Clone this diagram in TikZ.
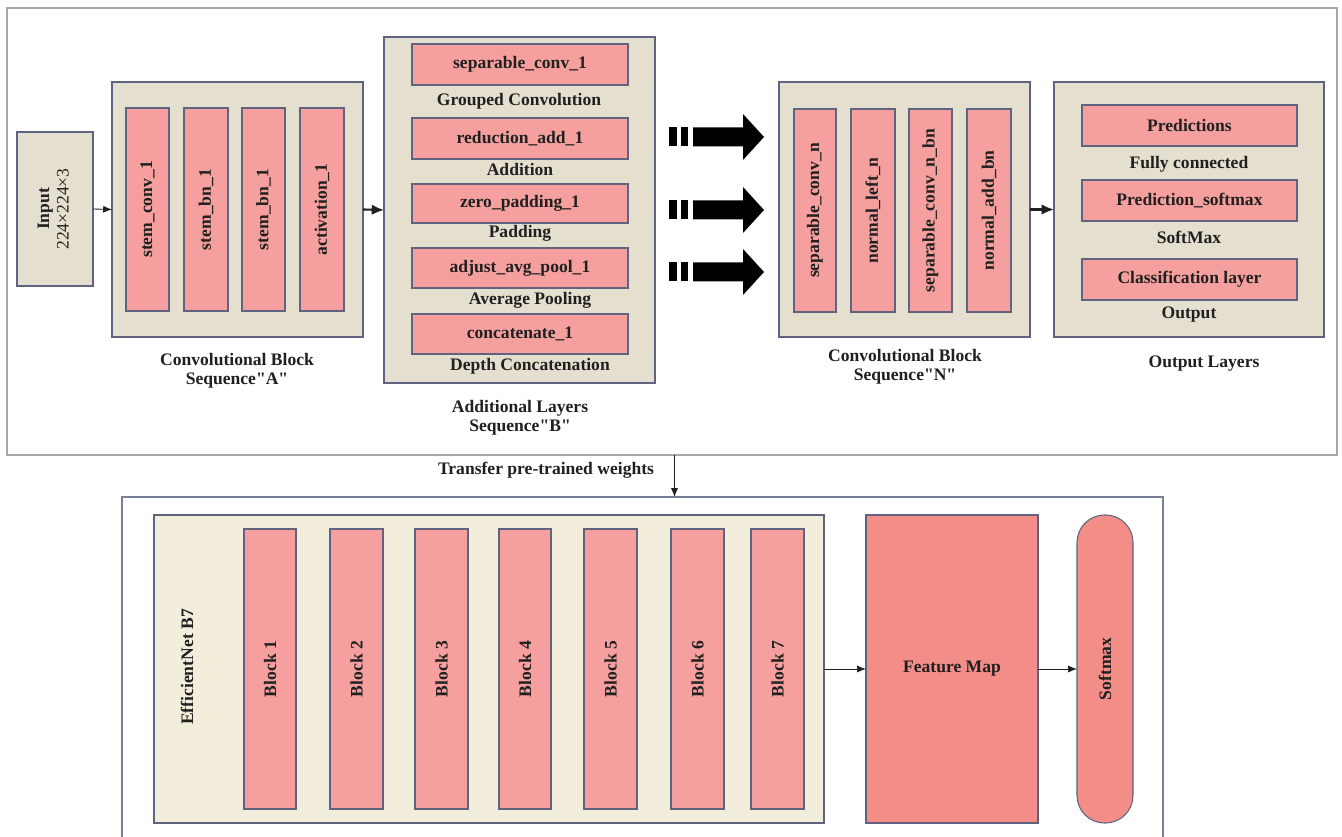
\documentclass[tikz,border=0pt]{standalone}
\usepackage{fontspec}
\setmainfont{Liberation Serif}[Ligatures=TeXOff]
\usepackage{graphicx}
\usetikzlibrary{arrows.meta}
\definecolor{panelbeige}{HTML}{E5DFCF}
\definecolor{effbeige}{HTML}{F3EEDC}
\definecolor{barred}{HTML}{F5A09E}
\definecolor{deepred}{HTML}{F28D88}
\definecolor{edge}{HTML}{5F6380}
\definecolor{outergrey}{HTML}{A8A8A8}
\definecolor{outerslate}{HTML}{7A7F9A}
\definecolor{ink}{HTML}{202020}
\newcommand\mkbox[7]{\node[#6, minimum width={(#4-#2)*0.02cm}, minimum height={(#5-#3)*0.02cm}] (#1) at ({(#2+#4)/2},{(#3+#5)/2}) {#7};}
\newcommand\vt[1]{\rotatebox{90}{#1}}
\tikzset{
  every node/.style={inner sep=0pt, outer sep=0pt, text=ink, font=\fontsize{10}{11}\selectfont\bfseries},
  outerbox/.style={draw=outergrey, line width=0.7pt},
  outerbot/.style={draw=outerslate, line width=0.7pt},
  panel/.style={draw=edge, fill=panelbeige, line width=0.6pt},
  effpanel/.style={draw=edge, fill=effbeige, line width=0.6pt},
  bar/.style={draw=edge, fill=barred, line width=0.6pt},
  deep/.style={draw=edge, fill=deepred, line width=0.6pt},
  caption/.style={align=center},
  conn/.style={draw=ink, line width=0.5pt, -{Latex[length=5pt,width=4pt]}},
  bigconn/.style={draw=ink, line width=1.2pt, -{Latex[length=7pt,width=6pt]}},
  fatarrow/.style={fill=black, draw=none}
}
\begin{document}
\begin{tikzpicture}[x=0.02cm, y=-0.02cm]
\useasboundingbox (0,0) rectangle (1342,837);
\clip (0,0) rectangle (1342,837);
\fill[white] (0,0) rectangle (1342,837);
% top section
\mkbox{outer}{7}{8}{1337}{455}{outerbox}{}
\mkbox{input}{17}{132}{93}{286}{panel}{\vt{\begin{tabular}{@{}c@{}}Input\\\mdseries 224×224×3\end{tabular}}}
\mkbox{A}{112}{82}{363}{337}{panel}{}
\mkbox{a1}{126}{108}{169}{311}{bar}{\vt{stem\_conv\_1}}
\mkbox{a2}{184}{108}{228}{311}{bar}{\vt{stem\_bn\_1}}
\mkbox{a3}{242}{108}{285}{311}{bar}{\vt{stem\_bn\_1}}
\mkbox{a4}{300}{108}{344}{311}{bar}{\vt{activation\_1}}
\node[caption] (labA) at (237,371) {Convolutional Block\\Sequence"A"};
\mkbox{B}{384}{37}{655}{383}{panel}{}
\mkbox{b1}{412}{44}{628}{85}{bar}{separable\_conv\_1}
\mkbox{b2}{412}{118}{628}{159}{bar}{reduction\_add\_1}
\mkbox{b3}{412}{184}{628}{223}{bar}{zero\_padding\_1}
\mkbox{b4}{412}{248}{628}{288}{bar}{adjust\_avg\_pool\_1}
\mkbox{b5}{412}{314}{628}{354}{bar}{concatenate\_1}
\node (cb1) at (519,101) {Grouped Convolution};
\node (cb2) at (520,169) {Addition};
\node (cb3) at (520,233) {Padding};
\node (cb4) at (530,300) {Average Pooling};
\node (cb5) at (530,366) {Depth Concatenation};
\node[caption] (labB) at (520,418) {Additional Layers\\Sequence"B"};
% fat arrows
\foreach \yy in {137,210,272}{
  \fill[fatarrow] (669,\yy-9.5) rectangle (677,\yy+9.5);
  \fill[fatarrow] (681,\yy-9.5) rectangle (688,\yy+9.5);
  \fill[fatarrow] (693,\yy-9.5) -- (743,\yy-9.5) -- (743,\yy-23) -- (764,\yy) -- (743,\yy+23) -- (743,\yy+9.5) -- (693,\yy+9.5) -- cycle;
}
\mkbox{N}{779}{82}{1030}{337}{panel}{}
\mkbox{n1}{794}{109}{836}{312}{bar}{\vt{separable\_conv\_n}}
\mkbox{n2}{851}{109}{895}{312}{bar}{\vt{normal\_left\_n}}
\mkbox{n3}{909}{109}{952}{312}{bar}{\vt{separable\_conv\_n\_bn}}
\mkbox{n4}{967}{109}{1011}{312}{bar}{\vt{normal\_add\_bn}}
\node[caption] (labN) at (905,367) {Convolutional Block\\Sequence"N"};
\mkbox{O}{1054}{82}{1324}{337}{panel}{}
\mkbox{o1}{1082}{105}{1297}{146}{bar}{Predictions}
\mkbox{o2}{1082}{180}{1297}{221}{bar}{Prediction\_softmax}
\mkbox{o3}{1082}{259}{1297}{300}{bar}{Classification layer}
\node (co1) at (1189,164) {Fully connected};
\node (co2) at (1189,237) {SoftMax};
\node (co3) at (1189,315) {Output};
\node (labO) at (1204,364) {Output Layers};
\draw[conn] (input.east) -- (A.west);
\draw[bigconn] (A.east) -- (B.west);
\draw[bigconn] (N.east) -- (O.west);
% transfer
\node (xfer) at (546,470) {Transfer pre-trained weights};
% bottom section
\mkbox{bot}{122}{497}{1163}{870}{outerbot}{}
\coordinate (xa) at (674.5,455);
\coordinate (xb) at (674.5,497);
\draw[conn] (xa) -- (xb);
\mkbox{eff}{154}{515}{824}{823}{effpanel}{}
\node (efflab) at (187,667) {\vt{EfficientNet B7}};
\mkbox{k1}{244}{529}{296}{809}{bar}{\vt{Block 1}}
\mkbox{k2}{330}{529}{383}{809}{bar}{\vt{Block 2}}
\mkbox{k3}{415}{529}{468}{809}{bar}{\vt{Block 3}}
\mkbox{k4}{499}{529}{551}{809}{bar}{\vt{Block 4}}
\mkbox{k5}{584}{529}{637}{809}{bar}{\vt{Block 5}}
\mkbox{k6}{671}{529}{724}{809}{bar}{\vt{Block 6}}
\mkbox{k7}{751}{529}{804}{809}{bar}{\vt{Block 7}}
\mkbox{fm}{866}{515}{1038}{823}{deep}{Feature Map}
\mkbox{sm}{1077}{515}{1133}{823}{deep, rounded corners=0.55cm}{\vt{Softmax}}
\draw[conn] (eff.east) -- (fm.west);
\draw[conn] (fm.east) -- (sm.west);
\end{tikzpicture}
\end{document}
